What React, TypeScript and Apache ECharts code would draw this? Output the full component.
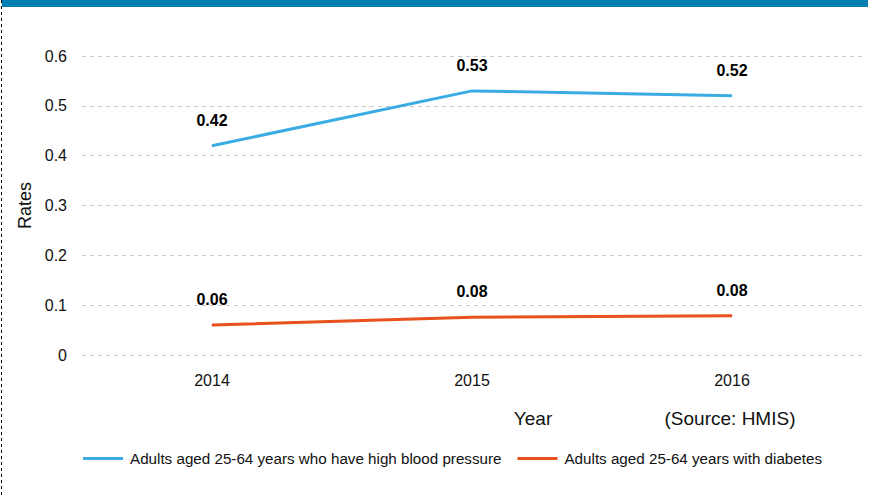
import React, { useEffect, useRef } from "react";
import * as echarts from "echarts";

const years = ["2014", "2015", "2016"];
const bloodPressure = [0.42, 0.53, 0.52];
const diabetes = [0.06, 0.076, 0.079];
const seriesNames = [
  "Adults aged 25-64 years who have high blood pressure",
  "Adults aged 25-64 years with diabetes",
];
const yTicks = { min: 0, max: 0.6, interval: 0.1 };

const FONT = "'Liberation Sans', Arial, Helvetica, sans-serif";

export default function App() {
  const ref = useRef<HTMLDivElement>(null);
  useEffect(() => {
    document.body.style.margin = "0";
    const chart = echarts.init(ref.current!, null, { renderer: "svg" });
    const labelCfg = {
      show: true,
      position: "top" as const,
      distance: 17,
      fontFamily: FONT,
      fontWeight: "bold" as const,
      fontSize: 16,
      color: "#000",
      formatter: (p: any) => Number(p.value).toFixed(2),
    };
    chart.setOption({
      animation: false,
      backgroundColor: "#fff",
      textStyle: { fontFamily: FONT },
      grid: { left: 82, right: 8, top: 56, bottom: 140, containLabel: false },
      xAxis: {
        type: "category",
        data: years,
        boundaryGap: true,
        axisLine: { show: false },
        axisTick: { show: false },
        axisLabel: { color: "#111", fontSize: 16, margin: 17, fontFamily: FONT },
      },
      yAxis: {
        type: "value",
        min: yTicks.min,
        max: yTicks.max,
        interval: yTicks.interval,
        name: "Rates",
        nameLocation: "middle",
        nameGap: 48,
        nameRotate: 90,
        nameTextStyle: { color: "#111", fontSize: 18, fontFamily: FONT },
        axisLine: { show: false },
        axisTick: { show: false },
        axisLabel: {
          color: "#111",
          fontSize: 16,
          margin: 15,
          fontFamily: FONT,
          formatter: (v: number) => (v === 0 ? "0" : String(Math.round(v * 10) / 10)),
        },
        splitLine: {
          lineStyle: { color: "#c8c8c8", type: [4, 4], width: 1 },
        },
      },
      legend: {
        left: 83,
        top: 451,
        padding: 0,
        icon: "rect",
        itemWidth: 40,
        itemHeight: 3,
        itemGap: 16,
        textStyle: { color: "#111", fontSize: 15.2, fontFamily: FONT, padding: [0, 0, 0, 2] },
        data: seriesNames,
      },
      series: [
        {
          name: seriesNames[0],
          type: "line",
          data: bloodPressure,
          symbol: "circle",
          symbolSize: 1,
          showSymbol: true,
          color: "#3aace3",
          lineStyle: { width: 3, color: "#3aace3" },
          label: labelCfg,
        },
        {
          name: seriesNames[1],
          type: "line",
          data: diabetes,
          symbol: "circle",
          symbolSize: 1,
          showSymbol: true,
          color: "#e8501e",
          lineStyle: { width: 3, color: "#e8501e" },
          label: labelCfg,
        },
      ],
      graphic: [
        {
          type: "rect",
          shape: { x: 2, y: 0, width: 866, height: 7 },
          style: { fill: "#0080b3" },
          silent: true,
        },
        {
          type: "line",
          shape: { x1: 1.5, y1: 0, x2: 1.5, y2: 495 },
          style: { stroke: "#000", lineWidth: 1, lineDash: [3, 3] },
          silent: true,
        },
        {
          type: "text",
          x: 533,
          y: 418,
          style: {
            text: "Year",
            fontSize: 19,
            fontFamily: FONT,
            fill: "#111",
            align: "center",
            verticalAlign: "middle",
          },
        },
        {
          type: "text",
          x: 730,
          y: 418,
          style: {
            text: "(Source: HMIS)",
            fontSize: 19,
            fontFamily: FONT,
            fill: "#111",
            align: "center",
            verticalAlign: "middle",
          },
        },
      ],
    });
    return () => chart.dispose();
  }, []);
  return <div ref={ref} style={{ width: 870, height: 495 }} />;
}
